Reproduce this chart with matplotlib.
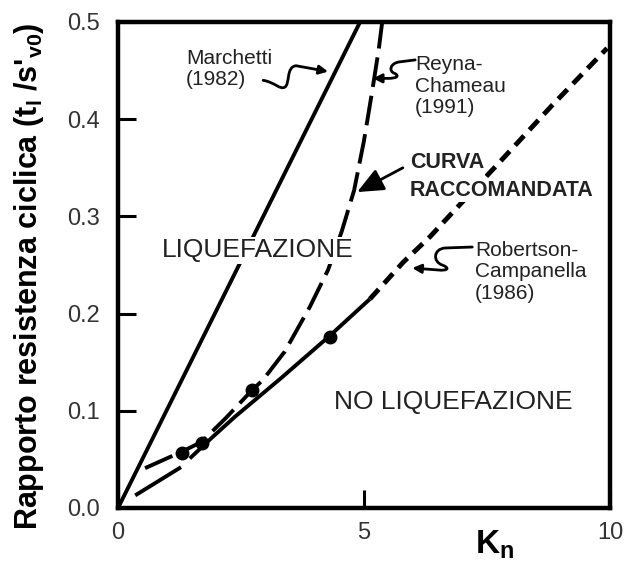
import matplotlib
matplotlib.use("Agg")
import matplotlib.pyplot as plt
import numpy as np
from matplotlib.path import Path
from matplotlib.patches import FancyArrowPatch

plt.rcParams['font.family'] = ['Liberation Sans', 'DejaVu Sans']
plt.rcParams['mathtext.fontset'] = 'custom'
plt.rcParams['mathtext.rm'] = 'Liberation Sans'
plt.rcParams['mathtext.bf'] = 'Liberation Sans:bold'

# Marchetti (1982)
marchetti_x = [0.0, 4.92]
marchetti_y = [0.0, 0.50]

# Reyna-Chameau (1991) / curva raccomandata
reyna_x = [0.55, 1.30, 1.70, 2.20, 2.72, 2.95, 3.39, 3.90, 4.27, 4.55, 4.80, 5.00, 5.17, 5.30, 5.37]
reyna_y = [0.041, 0.058, 0.068, 0.093, 0.121, 0.132, 0.161, 0.207, 0.245, 0.285, 0.327, 0.378, 0.430, 0.472, 0.500]

# Robertson-Campanella (1986)
robertson_x = [0.35, 0.80, 1.28, 1.46, 1.90, 2.38, 3.30, 4.30, 5.12, 5.80, 6.34, 6.78, 7.76, 8.80, 9.94]
robertson_y = [0.013, 0.027, 0.042, 0.051, 0.072, 0.094, 0.133, 0.177, 0.215, 0.253, 0.279, 0.303, 0.356, 0.413, 0.473]

# data points
points_x = [1.30, 1.70, 2.72, 4.30]
points_y = [0.057, 0.067, 0.121, 0.176]

x_ticks = [0, 5, 10]
y_ticks = [0.0, 0.1, 0.2, 0.3, 0.4, 0.5]

fig = plt.figure(figsize=(6.26, 5.62), dpi=100)
ax = fig.add_axes([118/626, 54/562, 492/626, 486/562])

ax.plot(marchetti_x, marchetti_y, color='k', lw=2.8, solid_capstyle='butt')

ax.plot(reyna_x, reyna_y, color='k', lw=2.8, dashes=(7.7, 2.3), dash_capstyle='butt')

rx = np.array(robertson_x)
ry = np.array(robertson_y)
seg1 = rx <= 1.3
seg2 = (rx >= 1.46) & (rx <= 5.12)
seg3 = rx >= 5.12
ax.plot(rx[seg1], ry[seg1], color='k', lw=2.8, solid_capstyle='butt')
ax.plot(rx[seg2], ry[seg2], color='k', lw=2.8, solid_capstyle='butt')
ax.plot(rx[seg3], ry[seg3], color='k', lw=3.5, dashes=(2.7, 1.65), dash_capstyle='butt')

ax.plot(points_x, points_y, 'o', color='k', ms=9)

ax.set_xlim(0, 10)
ax.set_ylim(0, 0.5)
ax.set_xticks(x_ticks)
ax.set_yticks(y_ticks)
ax.set_xticklabels([str(v) for v in x_ticks])
ax.set_yticklabels(['%.1f' % v for v in y_ticks])
ax.tick_params(axis='both', direction='in', length=13, width=2.2, labelsize=17, labelcolor='#333333')
ax.tick_params(axis='y', pad=13)
ax.tick_params(axis='x', pad=10)
for s in ax.spines.values():
    s.set_linewidth(3.2)

# labels of curves (white box hides lines behind text)
box = dict(facecolor='white', edgecolor='none', pad=1)
ax.text(1.38, 0.452, "Marchetti\n(1982)", fontsize=15, ha='left', va='center', linespacing=1.15,
        color='#222222', bbox=box)
ax.text(6.04, 0.434, "Reyna-\nChameau\n(1991)", fontsize=15, ha='left', va='center', linespacing=1.15,
        color='#222222', bbox=box)
ax.text(5.93, 0.355, "CURVA", fontsize=15.5, fontweight='bold', ha='left', va='center',
        color='#222222', bbox=box)
ax.text(5.93, 0.327, "RACCOMANDATA", fontsize=15.5, fontweight='bold', ha='left', va='center',
        color='#222222', bbox=box)
ax.text(7.26, 0.243, "Robertson-\nCampanella\n(1986)", fontsize=15, ha='left', va='center', linespacing=1.15,
        color='#222222', bbox=box)
ax.text(2.85, 0.265, "LIQUEFAZIONE", fontsize=19, ha='center', va='center', color='#222222', bbox=box)
ax.text(6.81, 0.109, "NO LIQUEFAZIONE", fontsize=19, ha='center', va='center', color='#222222', bbox=box)

# wavy arrows
C4 = Path.CURVE4
waves = [
    [(2.95, 0.440), (3.19, 0.438), (3.29, 0.430), (3.39, 0.433),
     (3.50, 0.436), (3.41, 0.454), (3.62, 0.455), (4.27, 0.449)],
    [(6.04, 0.461), (5.73, 0.459), (5.53, 0.458), (5.49, 0.449), (5.63, 0.447),
     (5.73, 0.444), (5.65, 0.442), (5.49, 0.442), (5.18, 0.442)],
    [(7.20, 0.2685), (6.65, 0.2675), (6.40, 0.2665), (6.40, 0.2531), (6.59, 0.2500),
     (6.75, 0.2469), (6.71, 0.2438), (6.50, 0.2449), (5.98, 0.2469)],
]
wave_codes = [
    [Path.MOVETO, C4, C4, C4, C4, C4, C4, Path.LINETO],
    [Path.MOVETO, Path.LINETO, C4, C4, C4, C4, C4, C4, Path.LINETO],
    [Path.MOVETO, Path.LINETO, C4, C4, C4, C4, C4, C4, Path.LINETO],
]
for verts, codes in zip(waves, wave_codes):
    arr = FancyArrowPatch(path=Path(verts, codes), arrowstyle='-|>', mutation_scale=13,
                          lw=2, color='k', zorder=4)
    ax.add_patch(arr)

ax.annotate("", xy=(4.86, 0.325), xytext=(5.79, 0.350),
            arrowprops=dict(arrowstyle='-|>,head_length=0.8,head_width=0.35', mutation_scale=20,
                            lw=2, color='k', shrinkA=0, shrinkB=0))

fig.text(29/626, 1 - 276/562, "Rapporto resistenza ciclica (t$_{\\mathbf{l}}$ /s'$_{\\mathbf{v0}}$)",
         rotation=90, fontsize=22, fontweight='bold', ha='center', va='center')
fig.text(495/626, 1 - 553/562, "K$_{\\mathbf{n}}$", fontsize=24, fontweight='bold', ha='center', va='baseline')

fig.savefig("out.png", dpi=100)
